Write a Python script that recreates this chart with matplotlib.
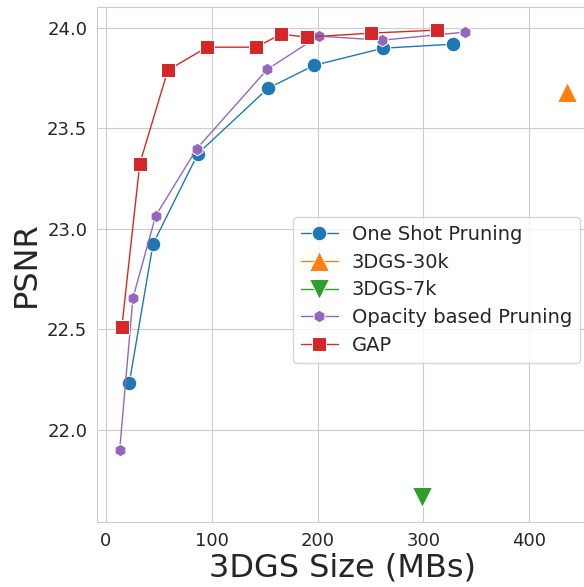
import matplotlib
matplotlib.use("Agg")
import matplotlib.pyplot as plt
import seaborn as sns

# values
one_shot_size = [22, 44.5, 87, 153, 197, 262, 328]
one_shot_psnr = [22.23, 22.925, 23.375, 23.70, 23.815, 23.90, 23.92]

opacity_size = [13, 25.5, 47, 86, 152.5, 201, 261, 339]
opacity_psnr = [21.90, 22.655, 23.065, 23.40, 23.795, 23.96, 23.94, 23.98]

gap_size = [15, 32, 58.5, 95.5, 142, 165.5, 189.5, 250, 312.5]
gap_psnr = [22.51, 23.325, 23.79, 23.905, 23.905, 23.97, 23.955, 23.975, 23.99]

dgs30k_size = [435.5]
dgs30k_psnr = [23.68]
dgs7k_size = [298.5]
dgs7k_psnr = [21.665]

sns.set_style("whitegrid")

fig = plt.figure(figsize=(5.84, 5.87), dpi=100)
ax = fig.add_axes([0.166, 0.111, 0.84, 0.877])

common = dict(linewidth=1, markeredgecolor="white", markeredgewidth=0.75)
ax.plot(one_shot_size, one_shot_psnr, marker="o", markersize=10.5,
        color="#1f77b4", label="One Shot Pruning", **common)
ax.plot(dgs30k_size, dgs30k_psnr, marker="^", markersize=14,
        color="#ff7f0e", label="3DGS-30k", **common)
ax.plot(dgs7k_size, dgs7k_psnr, marker="v", markersize=14,
        color="#2ca02c", label="3DGS-7k", **common)
ax.plot(opacity_size, opacity_psnr, marker="h", markersize=9,
        color="#9467bd", label="Opacity based Pruning", **common)
ax.plot(gap_size, gap_psnr, marker="s", markersize=9.5,
        color="#d62728", label="GAP", **common)

ax.set_xlim(-8.5, 455)
ax.set_ylim(21.54, 24.105)
ax.set_xticks([0, 100, 200, 300, 400])
ax.set_yticks([22.0, 22.5, 23.0, 23.5, 24.0])
ax.tick_params(labelsize=13)
ax.set_xlabel("3DGS Size (MBs)", fontsize=23, labelpad=2)
ax.set_ylabel("PSNR", fontsize=23)

ax.legend(loc="upper left", bbox_to_anchor=(0.502, 0.630),
          bbox_transform=fig.transFigure, borderaxespad=0, fontsize=14,
          labelspacing=0.45, borderpad=0.4, handletextpad=0.7,
          handlelength=1.9)

fig.savefig("out.png", dpi=100)
